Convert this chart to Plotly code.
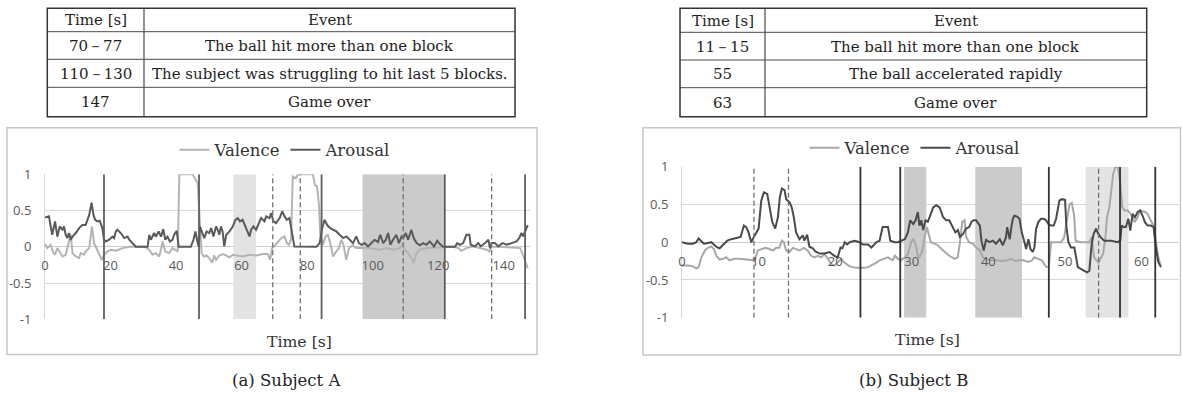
import plotly.graph_objects as go

W, H = 1182, 398

# ---------------- data ----------------
table_a_times = ["70－77", "110－130", "147"]
table_a_events = ["The ball hit more than one block",
                  "The subject was struggling to hit last 5 blocks.",
                  "Game over"]
table_b_times = ["11－15", "55", "63"]
table_b_events = ["The ball hit more than one block",
                  "The ball accelerated rapidly",
                  "Game over"]
table_header = ["Time [s]", "Event"]

a_arousal = [(0,0.405),(1.2,0.42),(2.2,0.166),(3.06,0.35),(3.77,0.14),(4.5,0.28),(5.3,0.235),(5.8,0.28),(6.3,0.166),(6.8,0.12),(7.3,0.19),(7.85,0.097),(8.4,0.14),(9.4,0.19),(10.4,0.258),(11.4,0.30),(12.4,0.30),(13.5,0.44),(14.2,0.61),(14.8,0.44),(15.3,0.372),(16.0,0.35),(16.7,0.36),(17.5,0.258),(18.0,0.097),(18.55,0.074),(19.6,0.097),(20.6,0.14),(21.1,0.12),(21.6,0.212),(22.1,0.235),(23.1,0.19),(24.2,0.12),(25.2,0.14),(25.7,0.097),(26.7,0.051),(27.7,0.0),(31.3,0.0),(31.8,0.166),(32.3,0.097),(33.3,0.19),(33.8,0.14),(34.7,0.212),(35.4,0.14),(36.1,0.244),(36.7,0.097),(37.4,0.14),(38.1,0.074),(38.9,0.097),(39.4,0.166),(40.2,0.22),(40.8,0.0),(44.5,0.0),(45.3,0.097),(45.9,0.212),(46.4,0.097),(46.9,0.0),(47.3,0.28),(47.9,0.212),(48.6,0.12),(49.3,0.212),(50.1,0.19),(50.7,0.258),(51.4,0.143),(52.2,0.28),(52.7,0.235),(53.2,0.166),(53.7,0.28),(54.2,0.212),(54.7,0.005),(55.3,0.166),(56.3,0.212),(57.3,0.28),(58.1,0.372),(58.8,0.396),(59.5,0.35),(60.3,0.372),(61.4,0.258),(62.4,0.143),(62.9,0.235),(63.6,0.28),(64.4,0.235),(65.2,0.327),(65.95,0.396),(66.97,0.35),(67.5,0.419),(68.5,0.396),(69.0,0.465),(69.7,0.35),(70.5,0.327),(71.6,0.396),(72.4,0.488),(73.1,0.419),(73.8,0.372),(74.6,0.396),(75.6,0.166),(76.1,0.005),(82.8,0.0),(83.8,0.051),(84.6,0.258),(85.3,0.372),(86.1,0.30),(87.05,0.258),(87.9,0.235),(88.9,0.212),(89.9,0.166),(91.0,0.12),(92.0,0.143),(93.0,0.097),(94.0,0.051),(95.0,0.143),(95.8,0.051),(96.6,0.028),(97.5,0.051),(98.6,0.005),(99.6,0.051),(100.6,0.097),(101.6,0.065),(102.3,0.166),(103.2,0.051),(104.0,0.097),(104.7,0.19),(105.4,0.028),(106.2,0.097),(107.2,0.166),(108.0,0.051),(108.8,0.143),(109.3,0.12),(110.1,0.19),(110.8,0.097),(111.8,0.235),(112.5,0.12),(113.4,0.051),(114.4,0.02),(115.4,0.051),(116.4,0.028),(117.4,0.074),(118.7,0.005),(119.7,0.083),(120.5,0.037),(121.5,0.0),(125.1,0.0),(125.8,0.051),(126.6,0.028),(127.6,0.051),(128.6,0.166),(129.5,0.166),(129.9,0.028),(131.2,0.005),(132.2,0.051),(133.0,0.005),(134.3,0.051),(135.3,0.097),(135.8,-0.02),(136.3,0.051),(137.3,0.051),(138.3,0.005),(139.6,0.051),(140.9,0.028),(142.4,0.051),(143.9,0.074),(144.7,0.12),(145.4,0.19),(145.9,0.143),(146.6,0.212),(147.3,0.30)]

a_valence = [(0,0.037),(0.7,-0.018),(1.7,0.028),(2.4,-0.064),(3.06,-0.11),(3.77,-0.018),(4.3,-0.055),(5.3,-0.133),(6.3,-0.11),(7.3,0.051),(7.85,0.166),(8.4,-0.087),(9.4,-0.133),(10.4,-0.156),(10.9,-0.087),(11.9,-0.11),(12.4,-0.064),(13.5,-0.018),(14.3,0.28),(15.0,0.051),(15.7,-0.018),(16.5,-0.087),(17.3,-0.179),(18.0,-0.11),(19.1,-0.064),(20.1,-0.041),(21.6,-0.055),(23.7,-0.018),(25.7,0.0),(27.7,0.0),(30.5,0.0),(31.8,-0.041),(32.8,-0.11),(33.8,-0.087),(34.9,-0.133),(35.9,0.074),(36.7,-0.064),(37.9,-0.087),(38.9,-0.018),(40.5,-0.064),(41.0,1.0),(45.0,1.0),(46.0,0.93),(46.6,0.88),(47.3,0.3),(47.8,-0.09),(48.5,-0.133),(49.3,-0.12),(50.1,-0.156),(51.0,-0.22),(51.6,-0.12),(52.2,-0.179),(53.2,-0.12),(54.2,-0.10),(55.3,-0.12),(56.3,-0.145),(57.3,-0.11),(58.5,-0.12),(60.3,-0.133),(62.4,-0.11),(64.4,-0.12),(66.5,-0.10),(68.0,-0.10),(68.7,-0.179),(69.3,-0.018),(69.9,0.005),(70.9,0.051),(72.1,0.12),(73.1,0.143),(73.8,0.051),(74.4,0.028),(75.1,0.097),(75.6,0.97),(76.5,0.948),(77.2,0.994),(77.7,1.0),(81.8,1.0),(82.3,0.856),(83.0,0.833),(83.6,0.58),(84.0,0.166),(84.8,0.028),(85.6,0.143),(86.3,0.166),(87.05,0.051),(87.9,-0.133),(88.9,-0.064),(89.7,-0.018),(90.4,0.097),(91.1,0.028),(91.9,-0.179),(92.8,-0.018),(93.8,0.02),(95.0,-0.018),(97.0,-0.018),(98.1,-0.009),(100.1,-0.027),(102.1,-0.041),(104.2,-0.018),(106.2,-0.041),(108.3,-0.018),(109.1,0.028),(109.8,-0.041),(110.8,-0.087),(111.8,-0.156),(112.5,-0.225),(113.4,-0.087),(114.4,-0.041),(116.4,-0.018),(119.5,-0.009),(121.5,0.0),(124.6,0.0),(126.1,-0.018),(127.1,-0.055),(128.6,-0.018),(129.7,-0.009),(130.7,0.005),(132.7,-0.018),(134.8,-0.041),(135.6,-0.064),(136.3,0.0),(138.8,0.0),(141.9,-0.009),(145.0,-0.018),(145.9,-0.12),(146.6,-0.2),(147.3,-0.294)]

b_arousal = [(0,0.0),(0.78,-0.02),(1.43,-0.02),(1.87,0.0),(2.17,0.05),(2.52,0.02),(2.87,-0.02),(3.39,-0.01),(3.82,0.0),(4.26,-0.04),(4.61,-0.07),(4.91,-0.08),(5.35,-0.04),(5.91,0.02),(6.43,0.04),(7.08,0.06),(7.65,0.07),(8.08,0.22),(8.39,0.2),(8.69,0.13),(9.04,0.0),(9.39,0.07),(9.69,0.13),(10.0,0.18),(10.35,0.55),(10.69,0.66),(11.13,0.64),(11.43,0.46),(11.78,0.27),(12.17,0.18),(12.52,0.33),(12.78,0.6),(13.04,0.71),(13.39,0.69),(13.6,0.57),(14.04,0.53),(14.34,0.46),(14.6,0.33),(14.9,0.13),(15.34,0.04),(15.78,0.09),(15.99,0.02),(16.34,0.1),(16.64,-0.06),(17.08,-0.08),(17.38,-0.12),(17.95,-0.15),(18.6,-0.15),(19.25,-0.13),(19.9,-0.18),(20.34,-0.2),(20.7,-0.07),(20.95,-0.08),(21.25,0.0),(21.56,-0.03),(21.9,0.0),(22.55,0.02),(23.2,0.0),(23.64,-0.03),(24.3,-0.03),(24.73,-0.07),(25.38,0.0),(25.8,0.02),(26.2,0.2),(26.5,0.2),(26.9,0.2),(27.2,0.02),(27.8,0.0),(28.2,0.0),(28.6,0.02),(29.1,0.04),(29.5,0.13),(29.8,0.29),(30.2,0.24),(30.5,0.29),(30.8,0.4),(31.0,0.22),(31.25,0.29),(31.5,0.16),(31.8,0.29),(32.1,0.27),(32.4,0.35),(32.8,0.46),(33.2,0.49),(33.64,0.46),(34.1,0.33),(34.5,0.29),(34.9,0.29),(35.4,0.2),(35.7,0.13),(36.03,0.16),(36.3,0.07),(36.7,0.11),(37.1,0.18),(37.5,0.2),(37.8,0.27),(38.07,0.29),(38.4,0.29),(38.9,0.22),(39.1,0.02),(39.4,-0.11),(39.7,0.03),(40.15,0.0),(40.6,0.02),(41.0,-0.02),(41.5,0.04),(41.9,-0.04),(42.3,0.06),(42.46,0.2),(42.8,0.04),(42.98,0.18),(43.2,0.31),(43.4,0.35),(43.76,0.34),(44.07,0.31),(44.37,0.13),(44.72,0.0),(44.94,-0.09),(45.24,0.04),(45.5,-0.09),(45.8,-0.13),(46.02,-0.07),(46.24,0.18),(46.54,0.27),(46.89,0.31),(47.24,0.31),(47.54,0.29),(47.85,0.24),(48.2,0.22),(48.54,0.22),(48.85,0.31),(49.07,0.42),(49.28,0.55),(49.59,0.57),(50.02,0.56),(50.2,0.2),(50.46,0.0),(50.8,-0.07),(51.24,-0.07),(51.68,-0.33),(52.11,-0.35),(52.54,-0.38),(52.89,-0.4),(53.19,-0.38),(53.5,-0.02),(53.76,0.11),(54.06,0.18),(54.37,0.11),(54.71,0.06),(55.15,0.02),(56.02,0.02),(56.89,0.0),(57.23,0.02),(57.41,0.22),(57.67,0.2),(57.97,0.2),(58.28,0.31),(58.54,0.155),(58.84,0.375),(59.15,0.33),(59.5,0.4),(59.84,0.42),(60.15,0.35),(60.45,0.265),(60.8,0.22),(61.23,0.22),(61.58,0.2),(61.88,-0.07),(62.19,-0.26),(62.54,-0.33)]

b_valence = [(0,-0.31),(0.78,-0.31),(1.43,-0.32),(1.87,-0.35),(2.17,-0.33),(2.52,-0.2),(3.0,-0.11),(3.39,-0.075),(3.82,-0.057),(4.17,-0.09),(4.48,-0.18),(4.91,-0.23),(5.35,-0.22),(5.78,-0.2),(6.2,-0.24),(6.87,-0.22),(7.5,-0.22),(8.17,-0.23),(9.04,-0.24),(9.47,-0.24),(9.9,-0.11),(10.35,-0.09),(10.87,-0.075),(11.43,-0.09),(11.87,-0.11),(12.3,-0.075),(12.7,-0.075),(13.04,0.02),(13.3,0.0),(13.6,-0.11),(14.04,-0.13),(14.47,-0.075),(14.9,-0.09),(15.34,-0.11),(15.9,-0.075),(16.4,-0.11),(16.86,-0.18),(17.3,-0.2),(17.7,-0.18),(18.2,-0.2),(18.6,-0.155),(19.0,-0.22),(19.5,-0.29),(19.9,-0.31),(20.3,-0.27),(20.8,-0.22),(21.2,-0.27),(21.9,-0.32),(22.8,-0.34),(23.8,-0.34),(24.3,-0.33),(24.7,-0.31),(25.4,-0.27),(25.8,-0.24),(26.4,-0.22),(26.9,-0.2),(27.5,-0.24),(27.8,-0.18),(28.2,-0.22),(28.6,-0.24),(29.1,-0.2),(29.5,-0.16),(29.9,0.0),(30.2,0.04),(30.5,-0.02),(30.8,-0.18),(31.0,-0.2),(31.4,-0.11),(31.7,0.09),(32.0,0.2),(32.2,0.11),(32.5,0.0),(33.0,-0.02),(33.4,-0.04),(33.9,-0.09),(34.4,-0.13),(34.9,-0.18),(35.6,-0.22),(36.0,-0.2),(36.3,0.0),(36.6,0.27),(36.9,0.29),(37.1,0.07),(37.5,0.0),(38.0,-0.02),(38.4,-0.07),(38.9,-0.11),(39.3,-0.2),(39.7,-0.22),(40.2,-0.24),(41.0,-0.24),(41.8,-0.25),(42.5,-0.24),(43.0,-0.22),(43.5,-0.25),(44.0,-0.24),(44.6,-0.24),(45.2,-0.26),(45.7,-0.24),(46.0,-0.2),(46.5,-0.22),(47.0,-0.24),(47.3,-0.29),(47.6,-0.33),(47.9,-0.33),(48.2,0.0),(48.8,0.0),(49.5,0.0),(49.9,0.06),(50.3,0.3),(50.6,0.5),(50.9,0.52),(51.2,0.36),(51.4,0.02),(52.0,0.0),(52.7,0.0),(53.2,0.0),(53.5,0.07),(53.8,-0.2),(54.4,-0.27),(54.7,-0.2),(55.0,-0.15),(55.3,0.07),(55.5,0.33),(55.8,0.46),(56.0,0.64),(56.3,0.9),(56.6,1.0),(56.9,1.0),(57.2,0.81),(57.5,0.46),(57.8,0.42),(58.2,0.42),(58.6,0.375),(59.1,0.265),(59.5,0.33),(59.8,0.42),(60.5,0.4),(60.8,0.375),(61.2,0.29),(61.6,0.22),(61.9,0.0),(62.2,-0.2),(62.5,-0.31)]

# event markers (seconds)
a_solid = [18, 47, 84.4, 122, 146.5]
a_dashed = [69.5, 77.9, 109.3, 136.3]
a_light_bands = [(57.5, 64.4)]
a_dark_bands = [(96.9, 122)]
b_solid = [23.3, 28.5, 47.9, 57.2, 61.8]
b_dashed = [9.4, 13.9, 54.4]
b_light_bands = [(52.7, 58.3)]
b_dark_bands = [(29.0, 31.9), (38.3, 44.4)]

a_xticks = [0, 20, 40, 60, 80, 100, 120, 140]
b_xticks = [0, 10, 20, 30, 40, 50, 60]
y_ticks = [-1, -0.5, 0, 0.5, 1]
y_ticktext = ["-1", "-0.5", "0", "0.5", "1"]

# ---------------- helpers ----------------
def fx(p):
    return p / W

def fy(p):
    return 1 - p / H

SERIF = "DejaVu Serif"
fig = go.Figure()
shapes = []
annotations = []

# tables (drawn as a grid of cells)
tfont = dict(family=SERIF, size=15, color="#1e1e1e")

def add_table(x_edges, y_edges, times, events):
    xl, xm, xr = x_edges
    for y in y_edges[1:-1]:
        shapes.append(dict(type="line", xref="paper", yref="paper", x0=fx(xl), x1=fx(xr),
                           y0=fy(y), y1=fy(y), line=dict(color="#4a4a4a", width=1)))
    shapes.append(dict(type="line", xref="paper", yref="paper", x0=fx(xm), x1=fx(xm),
                       y0=fy(y_edges[0]), y1=fy(y_edges[-1]), line=dict(color="#4a4a4a", width=1.2)))
    shapes.append(dict(type="rect", xref="paper", yref="paper", x0=fx(xl), x1=fx(xr),
                       y0=fy(y_edges[-1]), y1=fy(y_edges[0]), line=dict(color="#333", width=1.5)))
    rows = [table_header] + [[t, e] for t, e in zip(times, events)]
    for i, row in enumerate(rows):
        yc = (y_edges[i] + y_edges[i + 1]) / 2 + 0.5
        for txt, xc in zip(row, [(xl + xm) / 2, (xm + xr) / 2]):
            annotations.append(dict(text=txt, x=fx(xc), y=fy(yc), xref="paper", yref="paper",
                                    showarrow=False, font=tfont, xanchor="center", yanchor="middle"))

add_table((47.3, 144, 515), (8.3, 31.7, 59.3, 87.3, 116.7), table_a_times, table_a_events)
add_table((680, 765, 1146.7), (8.3, 32.3, 60, 87.7, 116.7), table_b_times, table_b_events)

# lines
def add_series(data, name, color, xa, ya, leg):
    fig.add_trace(go.Scatter(x=[p[0] for p in data], y=[p[1] for p in data],
                             mode="lines", name=name, xaxis=xa, yaxis=ya, legend=leg,
                             line=dict(color=color, width=2)))

add_series(a_valence, "Valence", "#b4b4b4", "x", "y", "legend")
add_series(a_arousal, "Arousal", "#5a5a5a", "x", "y", "legend")
add_series(b_valence, "Valence", "#a8a8a8", "x2", "y2", "legend2")
add_series(b_arousal, "Arousal", "#4a4a4a", "x2", "y2", "legend2")

def add_events(xref, yref, solid, dashed, light, dark, solid_color):
    for a, b in light:
        shapes.append(dict(type="rect", xref=xref, yref=yref, x0=a, x1=b, y0=-1, y1=1,
                           fillcolor="#e3e3e3", line=dict(width=0), layer="between"))
    for a, b in dark:
        shapes.append(dict(type="rect", xref=xref, yref=yref, x0=a, x1=b, y0=-1, y1=1,
                           fillcolor="#cbcbcb", line=dict(width=0), layer="between"))
    for v in solid:
        shapes.append(dict(type="line", xref=xref, yref=yref, x0=v, x1=v, y0=-1, y1=1,
                           line=dict(color=solid_color, width=1.8), layer="above"))
    for v in dashed:
        shapes.append(dict(type="line", xref=xref, yref=yref, x0=v, x1=v, y0=-1, y1=1,
                           line=dict(color="#707070", width=1.3, dash="5px,3px"), layer="above"))

add_events("x", "y", a_solid, a_dashed, a_light_bands, a_dark_bands, "#5f5f5f")
add_events("x2", "y2", b_solid, b_dashed, b_light_bands, b_dark_bands, "#333333")

# chart frames
shapes.append(dict(type="rect", xref="paper", yref="paper", x0=fx(7), x1=fx(537),
                   y0=fy(354.5), y1=fy(127.7), line=dict(color="#c8c8c8", width=1.5), layer="below"))
shapes.append(dict(type="rect", xref="paper", yref="paper", x0=fx(643), x1=fx(1180.5),
                   y0=fy(355), y1=fy(127.7), line=dict(color="#c8c8c8", width=1.5), layer="below"))

tickfont = dict(family="Open Sans", size=13, color="#595959")
ydom_a = [fy(319.3), fy(174.3)]
ydom_b = [fy(317.7), fy(166.7)]

def xaxis(dom, rng, ticks, pos):
    return dict(domain=dom, range=rng, anchor="free", position=pos, tickvals=ticks,
                showgrid=False, zeroline=False, showline=False, ticks="outside",
                ticklen=7, tickcolor="rgba(0,0,0,0)", tickfont=tickfont, fixedrange=True,
                automargin=False)

def yaxis(dom, anchor):
    return dict(domain=dom, range=[-1, 1], anchor=anchor, tickvals=y_ticks, ticktext=y_ticktext,
                gridcolor="#dadada", gridwidth=1, zeroline=True, zerolinecolor="#cccccc",
                zerolinewidth=1, showline=True, linecolor="#d6d6d6", linewidth=1,
                ticks="outside", ticklen=10, tickcolor="rgba(0,0,0,0)", tickfont=tickfont,
                fixedrange=True, automargin=False)

legfont = dict(family=SERIF, size=16.5, color="#333")
annfont = dict(family=SERIF, size=15.7, color="#333")
capfont = dict(family=SERIF, size=16.5, color="#222")

annotations += [
    dict(text="Time [s]", x=fx(299), y=fy(341.5), xref="paper", yref="paper",
         showarrow=False, font=annfont, xanchor="center", yanchor="middle"),
    dict(text="Time [s]", x=fx(927), y=fy(339), xref="paper", yref="paper",
         showarrow=False, font=annfont, xanchor="center", yanchor="middle"),
    dict(text="(a) Subject A", x=fx(286), y=fy(380.5), xref="paper", yref="paper",
         showarrow=False, font=capfont, xanchor="center", yanchor="middle"),
    dict(text="(b) Subject B", x=fx(913), y=fy(380.5), xref="paper", yref="paper",
         showarrow=False, font=capfont, xanchor="center", yanchor="middle"),
]

fig.update_layout(
    width=W, height=H, margin=dict(l=0, r=0, t=0, b=0, pad=0, autoexpand=False),
    paper_bgcolor="white", plot_bgcolor="rgba(0,0,0,0)",
    xaxis=xaxis([fx(45), fx(530)], [0, 148], a_xticks, (ydom_a[0] + ydom_a[1]) / 2),
    yaxis=yaxis(ydom_a, "x"),
    xaxis2=xaxis([fx(682), fx(1179)], [0, 64.9], b_xticks, (ydom_b[0] + ydom_b[1]) / 2),
    yaxis2=yaxis(ydom_b, "x2"),
    legend=dict(x=fx(285), y=fy(150), xanchor="center", yanchor="middle", orientation="h",
                font=legfont, bgcolor="rgba(0,0,0,0)", itemwidth=30),
    legend2=dict(x=fx(915), y=fy(148), xanchor="center", yanchor="middle", orientation="h",
                 font=legfont, bgcolor="rgba(0,0,0,0)", itemwidth=30),
    shapes=shapes,
    annotations=annotations,
)

fig.write_html("out.html", config={"displayModeBar": False},
               post_script="document.body.style.margin='0px';")
